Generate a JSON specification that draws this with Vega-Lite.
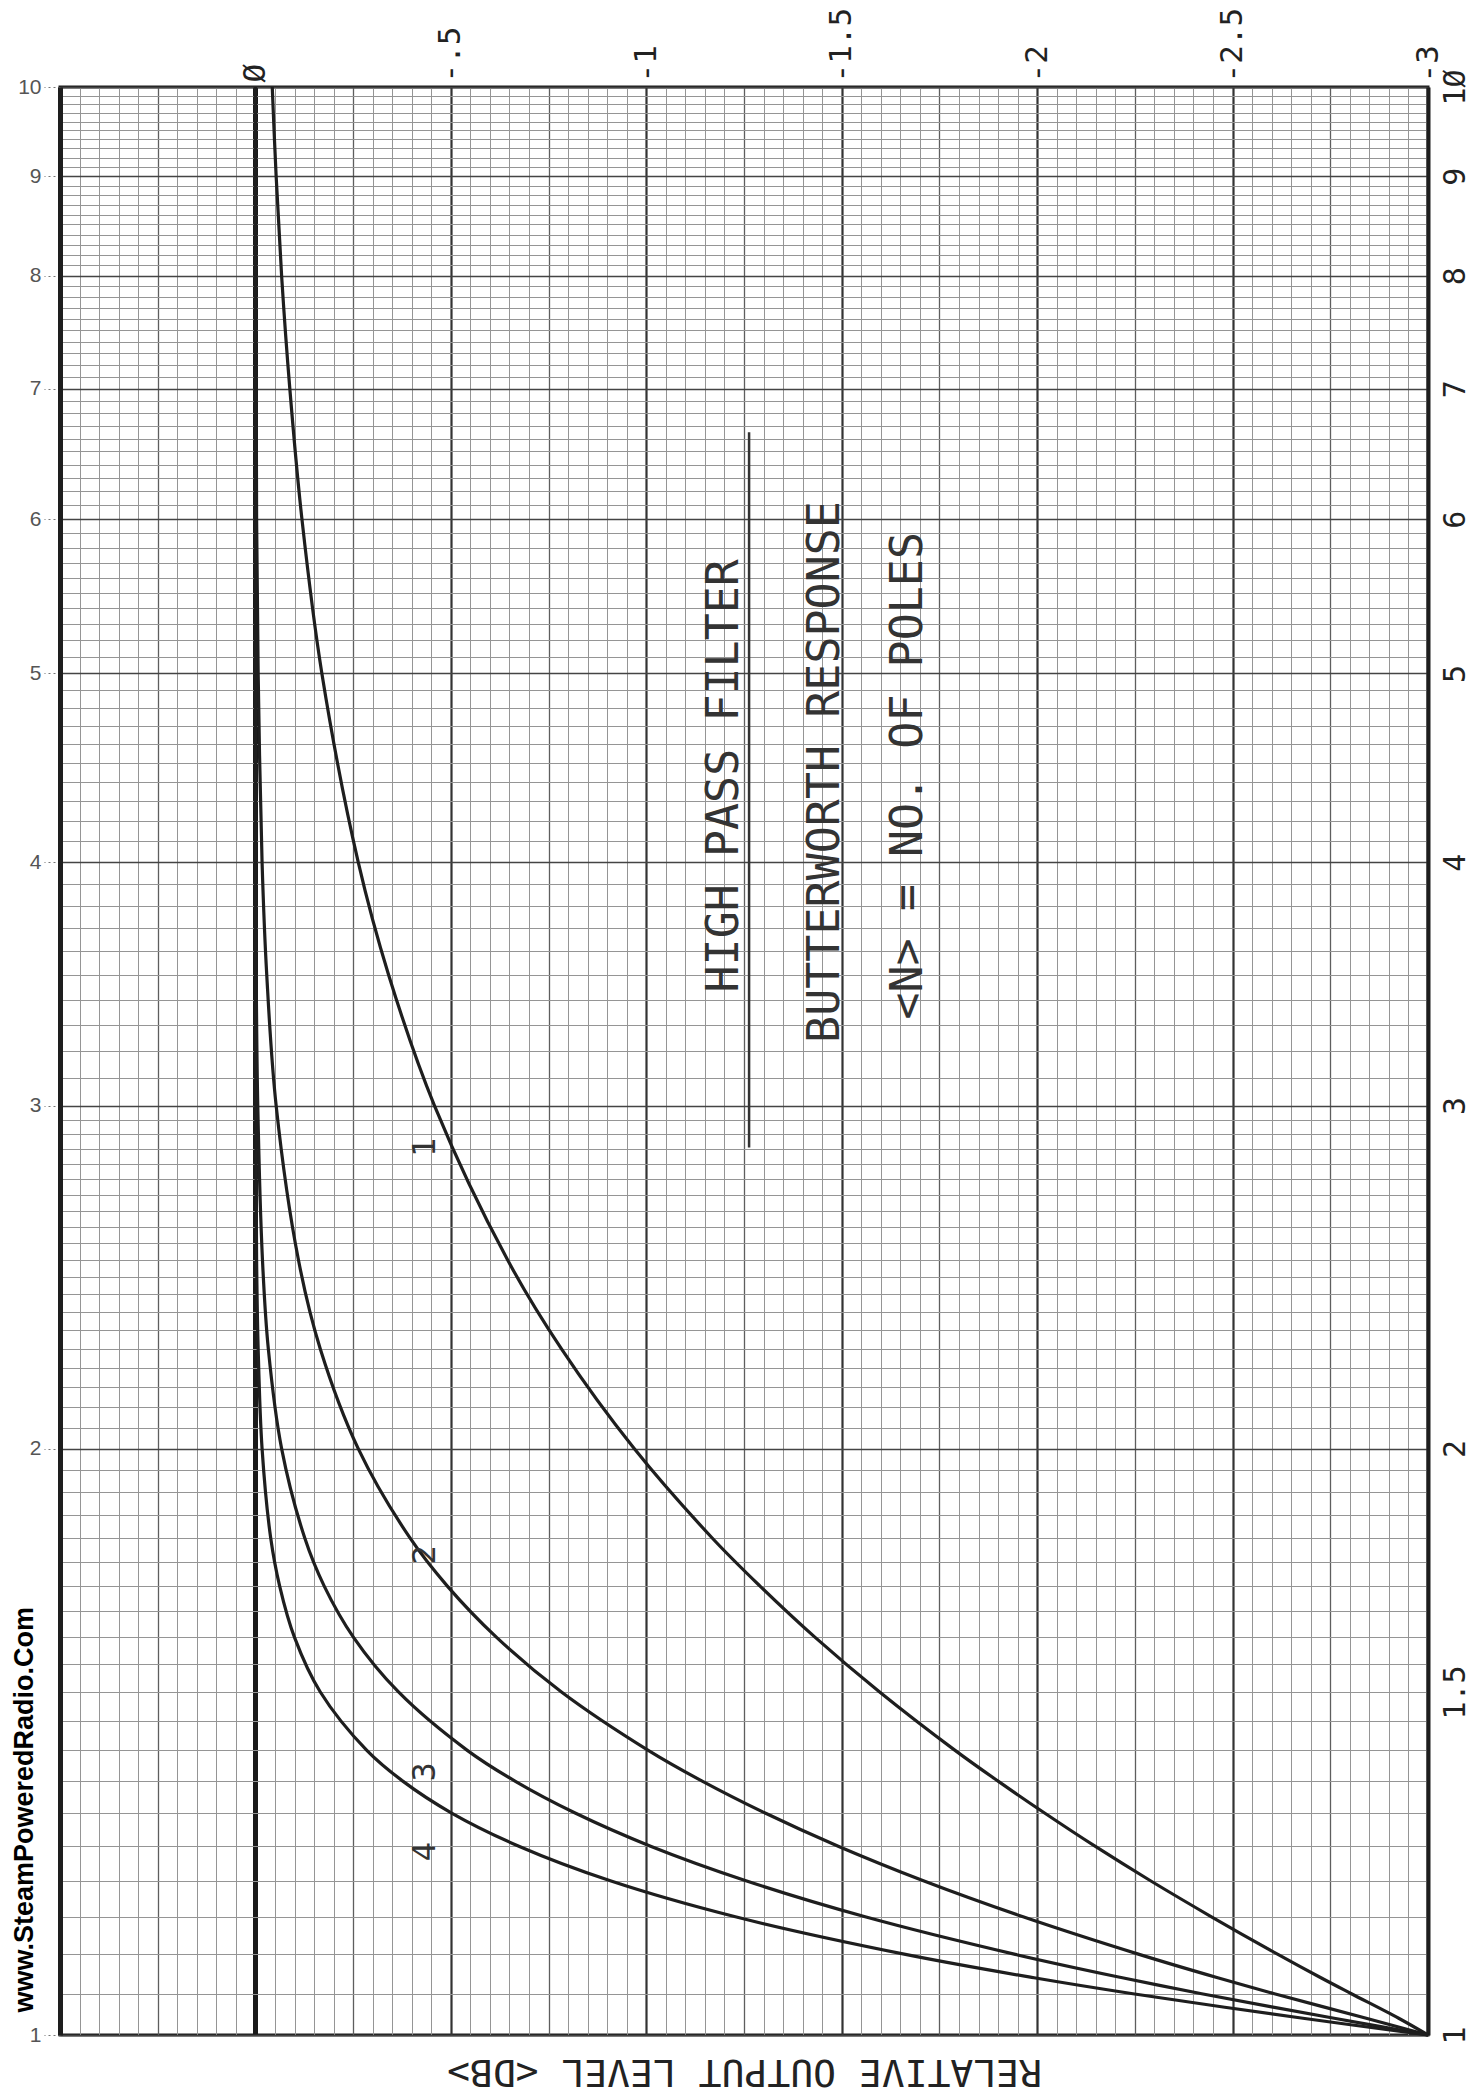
{
  "$schema": "https://vega.github.io/schema/vega-lite/v6.json",
  "width": 1368,
  "height": 1948,
  "autosize": {"type": "none"},
  "padding": {"left": 60, "top": 87, "right": 55, "bottom": 61},
  "background": "#ffffff",
  "config": {"view": {"stroke": "#1e1e1e", "strokeWidth": 3}},
  "datasets": {
    "curves": [
      {"poles": "1", "ratio": 1, "level": -3.0},
      {"poles": "1", "ratio": 1.02, "level": -2.925},
      {"poles": "1", "ratio": 1.05, "level": -2.804},
      {"poles": "1", "ratio": 1.07, "level": -2.726},
      {"poles": "1", "ratio": 1.1, "level": -2.616},
      {"poles": "1", "ratio": 1.15, "level": -2.446},
      {"poles": "1", "ratio": 1.2, "level": -2.29},
      {"poles": "1", "ratio": 1.25, "level": -2.148},
      {"poles": "1", "ratio": 1.3, "level": -2.019},
      {"poles": "1", "ratio": 1.35, "level": -1.9},
      {"poles": "1", "ratio": 1.4, "level": -1.79},
      {"poles": "1", "ratio": 1.5, "level": -1.597},
      {"poles": "1", "ratio": 1.6, "level": -1.432},
      {"poles": "1", "ratio": 1.7, "level": -1.291},
      {"poles": "1", "ratio": 1.8, "level": -1.168},
      {"poles": "1", "ratio": 2, "level": -0.969},
      {"poles": "1", "ratio": 2.25, "level": -0.783},
      {"poles": "1", "ratio": 2.5, "level": -0.645},
      {"poles": "1", "ratio": 3, "level": -0.458},
      {"poles": "1", "ratio": 3.5, "level": -0.341},
      {"poles": "1", "ratio": 4, "level": -0.263},
      {"poles": "1", "ratio": 5, "level": -0.17},
      {"poles": "1", "ratio": 6, "level": -0.119},
      {"poles": "1", "ratio": 7, "level": -0.088},
      {"poles": "1", "ratio": 8, "level": -0.067},
      {"poles": "1", "ratio": 9, "level": -0.053},
      {"poles": "1", "ratio": 10, "level": -0.043},
      {"poles": "2", "ratio": 1, "level": -3.0},
      {"poles": "2", "ratio": 1.02, "level": -2.842},
      {"poles": "2", "ratio": 1.05, "level": -2.607},
      {"poles": "2", "ratio": 1.07, "level": -2.462},
      {"poles": "2", "ratio": 1.1, "level": -2.261},
      {"poles": "2", "ratio": 1.15, "level": -1.964},
      {"poles": "2", "ratio": 1.2, "level": -1.709},
      {"poles": "2", "ratio": 1.25, "level": -1.491},
      {"poles": "2", "ratio": 1.3, "level": -1.304},
      {"poles": "2", "ratio": 1.35, "level": -1.143},
      {"poles": "2", "ratio": 1.4, "level": -1.005},
      {"poles": "2", "ratio": 1.5, "level": -0.783},
      {"poles": "2", "ratio": 1.6, "level": -0.617},
      {"poles": "2", "ratio": 1.7, "level": -0.491},
      {"poles": "2", "ratio": 1.8, "level": -0.395},
      {"poles": "2", "ratio": 2, "level": -0.263},
      {"poles": "2", "ratio": 2.25, "level": -0.166},
      {"poles": "2", "ratio": 2.5, "level": -0.11},
      {"poles": "2", "ratio": 3, "level": -0.053},
      {"poles": "2", "ratio": 3.5, "level": -0.029},
      {"poles": "2", "ratio": 4, "level": -0.017},
      {"poles": "2", "ratio": 5, "level": -0.007},
      {"poles": "2", "ratio": 6, "level": -0.003},
      {"poles": "2", "ratio": 7, "level": -0.002},
      {"poles": "2", "ratio": 8, "level": -0.001},
      {"poles": "2", "ratio": 9, "level": -0.001},
      {"poles": "2", "ratio": 10, "level": 0},
      {"poles": "3", "ratio": 1, "level": -3.0},
      {"poles": "3", "ratio": 1.02, "level": -2.76},
      {"poles": "3", "ratio": 1.05, "level": -2.421},
      {"poles": "3", "ratio": 1.07, "level": -2.218},
      {"poles": "3", "ratio": 1.1, "level": -1.944},
      {"poles": "3", "ratio": 1.15, "level": -1.56},
      {"poles": "3", "ratio": 1.2, "level": -1.255},
      {"poles": "3", "ratio": 1.25, "level": -1.011},
      {"poles": "3", "ratio": 1.3, "level": -0.818},
      {"poles": "3", "ratio": 1.35, "level": -0.664},
      {"poles": "3", "ratio": 1.4, "level": -0.542},
      {"poles": "3", "ratio": 1.5, "level": -0.366},
      {"poles": "3", "ratio": 1.6, "level": -0.251},
      {"poles": "3", "ratio": 1.7, "level": -0.176},
      {"poles": "3", "ratio": 1.8, "level": -0.126},
      {"poles": "3", "ratio": 2, "level": -0.067},
      {"poles": "3", "ratio": 2.25, "level": -0.033},
      {"poles": "3", "ratio": 2.5, "level": -0.018},
      {"poles": "3", "ratio": 3, "level": -0.006},
      {"poles": "3", "ratio": 3.5, "level": -0.002},
      {"poles": "3", "ratio": 4, "level": -0.001},
      {"poles": "3", "ratio": 5, "level": 0},
      {"poles": "3", "ratio": 6, "level": 0},
      {"poles": "3", "ratio": 7, "level": 0},
      {"poles": "3", "ratio": 8, "level": 0},
      {"poles": "3", "ratio": 9, "level": 0},
      {"poles": "3", "ratio": 10, "level": 0},
      {"poles": "4", "ratio": 1, "level": -3.0},
      {"poles": "4", "ratio": 1.02, "level": -2.68},
      {"poles": "4", "ratio": 1.05, "level": -2.245},
      {"poles": "4", "ratio": 1.07, "level": -1.992},
      {"poles": "4", "ratio": 1.1, "level": -1.663},
      {"poles": "4", "ratio": 1.15, "level": -1.228},
      {"poles": "4", "ratio": 1.2, "level": -0.908},
      {"poles": "4", "ratio": 1.25, "level": -0.674},
      {"poles": "4", "ratio": 1.3, "level": -0.502},
      {"poles": "4", "ratio": 1.35, "level": -0.377},
      {"poles": "4", "ratio": 1.4, "level": -0.285},
      {"poles": "4", "ratio": 1.5, "level": -0.166},
      {"poles": "4", "ratio": 1.6, "level": -0.1},
      {"poles": "4", "ratio": 1.7, "level": -0.062},
      {"poles": "4", "ratio": 1.8, "level": -0.039},
      {"poles": "4", "ratio": 2, "level": -0.017},
      {"poles": "4", "ratio": 2.25, "level": -0.007},
      {"poles": "4", "ratio": 2.5, "level": -0.003},
      {"poles": "4", "ratio": 3, "level": -0.001},
      {"poles": "4", "ratio": 3.5, "level": 0},
      {"poles": "4", "ratio": 4, "level": 0},
      {"poles": "4", "ratio": 5, "level": 0},
      {"poles": "4", "ratio": 6, "level": 0},
      {"poles": "4", "ratio": 7, "level": 0},
      {"poles": "4", "ratio": 8, "level": 0},
      {"poles": "4", "ratio": 9, "level": 0},
      {"poles": "4", "ratio": 10, "level": 0}
    ],
    "curve_labels": [
      {"poles": "1", "level": -0.433, "ratio": 2.855},
      {"poles": "2", "level": -0.433, "ratio": 1.764},
      {"poles": "3", "level": -0.433, "ratio": 1.365},
      {"poles": "4", "level": -0.433, "ratio": 1.242}
    ],
    "notes": [
      {"text": "HIGH  PASS  FILTER", "level": -1.198, "ratio": 4.43},
      {"text": "BUTTERWORTH RESPONSE", "level": -1.457, "ratio": 4.45},
      {"text": "<N> = NO. OF POLES", "level": -1.669, "ratio": 4.43}
    ],
    "underline": [{"level": -1.263, "from": 2.855, "to": 6.65}],
    "watermark": [{"text": "www.SteamPoweredRadio.Com", "level": 0.59, "ratio": 1.305}]
  },
  "layer": [
    {
      "data": {"name": "curves"},
      "mark": {"type": "line", "interpolate": "catmull-rom", "color": "#1e1e1e", "strokeWidth": 3.2},
      "encoding": {
        "x": {
          "field": "level", "type": "quantitative",
          "scale": {"domain": [-3, 0.5], "reverse": true, "nice": false, "zero": false},
          "axis": {
            "orient": "top", "title": null,
            "values": [0.5,0.45,0.4,0.35,0.3,0.25,0.2,0.15,0.1,0.05,0,-0.05,-0.1,-0.15,-0.2,-0.25,-0.3,-0.35,-0.4,-0.45,-0.5,-0.55,-0.6,-0.65,-0.7,-0.75,-0.8,-0.85,-0.9,-0.95,-1,-1.05,-1.1,-1.15,-1.2,-1.25,-1.3,-1.35,-1.4,-1.45,-1.5,-1.55,-1.6,-1.65,-1.7,-1.75,-1.8,-1.85,-1.9,-1.95,-2,-2.05,-2.1,-2.15,-2.2,-2.25,-2.3,-2.35,-2.4,-2.45,-2.5,-2.55,-2.6,-2.65,-2.7,-2.75,-2.8,-2.85,-2.9,-2.95,-3],
            "grid": true, "ticks": false, "tickSize": 0, "domain": false,
            "labelExpr": "abs(datum.value) < 0.000001 ? 'Ø' : (datum.value < 0 && abs(datum.value * 2 - round(datum.value * 2)) < 0.000001) ? (abs(datum.value + 0.5) < 0.000001 ? '-.5' : '-' + format(-datum.value, '~g')) : ''",
            "labelAngle": 270, "labelAlign": "left", "labelBaseline": "middle", "labelPadding": 5,
            "labelFont": "DejaVu Sans Mono", "labelFontSize": 31, "labelColor": "#222222",
            "labelOverlap": false, "labelFlush": false, "labelBound": false,
            "gridColor": {"condition": [
              {"test": "abs(datum.value) < 0.000001", "value": "#1a1a1a"},
              {"test": "abs(datum.value * 2 - round(datum.value * 2)) < 0.000001", "value": "#333333"},
              {"test": "abs(datum.value * 4 - round(datum.value * 4)) < 0.000001", "value": "#5e5e5e"}
            ], "value": "#959595"},
            "gridWidth": {"condition": [
              {"test": "abs(datum.value) < 0.000001", "value": 5},
              {"test": "abs(datum.value * 2 - round(datum.value * 2)) < 0.000001", "value": 2.2},
              {"test": "abs(datum.value * 4 - round(datum.value * 4)) < 0.000001", "value": 1.3}
            ], "value": 1}
          }
        },
        "y": {
          "field": "ratio", "type": "quantitative",
          "scale": {"type": "log", "domain": [1, 10], "nice": false},
          "axis": {
            "orient": "right", "title": null,
            "values": [1,1.05,1.1,1.15,1.2,1.25,1.3,1.35,1.4,1.45,1.5,1.55,1.6,1.65,1.7,1.75,1.8,1.85,1.9,1.95,2,2.05,2.1,2.15,2.2,2.25,2.3,2.35,2.4,2.45,2.5,2.55,2.6,2.65,2.7,2.75,2.8,2.85,2.9,2.95,3,3.1,3.2,3.3,3.4,3.5,3.6,3.7,3.8,3.9,4,4.1,4.2,4.3,4.4,4.5,4.6,4.7,4.8,4.9,5,5.1,5.2,5.3,5.4,5.5,5.6,5.7,5.8,5.9,6,6.1,6.2,6.3,6.4,6.5,6.6,6.7,6.8,6.9,7,7.1,7.2,7.3,7.4,7.5,7.6,7.7,7.8,7.9,8,8.1,8.2,8.3,8.4,8.5,8.6,8.7,8.8,8.9,9,9.1,9.2,9.3,9.4,9.5,9.6,9.7,9.8,9.9,10],
            "grid": true, "ticks": false, "tickSize": 0,
            "domain": true, "domainWidth": 4, "domainColor": "#1e1e1e",
            "labelExpr": "abs(datum.value - 10) < 0.000001 ? '1Ø' : (abs(datum.value - round(datum.value)) < 0.000001 || abs(datum.value - 1.5) < 0.000001) ? format(datum.value, '~g') : ''",
            "labelAngle": 270, "labelAlign": "center", "labelBaseline": "top", "labelPadding": 12,
            "labelFont": "DejaVu Sans Mono", "labelFontSize": 30, "labelColor": "#222222",
            "labelOverlap": false, "labelFlush": false, "labelBound": false,
            "gridColor": {"condition": {"test": "abs(datum.value - round(datum.value)) < 0.000001", "value": "#444444"}, "value": "#959595"},
            "gridWidth": {"condition": {"test": "abs(datum.value - round(datum.value)) < 0.000001", "value": 1.7}, "value": 1}
          }
        },
        "detail": {"field": "poles", "type": "nominal"},
        "order": {"field": "ratio", "type": "quantitative"}
      }
    },
    {
      "data": {"name": "curve_labels"},
      "mark": {"type": "text", "font": "DejaVu Sans Mono", "fontSize": 32, "angle": 270, "align": "center", "baseline": "middle", "color": "#333333"},
      "encoding": {
        "x": {
          "field": "level", "type": "quantitative",
          "axis": {
            "orient": "bottom", "labels": false, "ticks": false, "tickSize": 0, "grid": false, "domain": false,
            "title": "RELATIVE   OUTPUT   LEVEL <DB>", "titleAngle": 180,
            "titleFont": "DejaVu Sans Mono", "titleFontSize": 38, "titleFontWeight": "normal",
            "titleColor": "#222222", "titleAlign": "center", "titleBaseline": "bottom", "titlePadding": 16
          }
        },
        "y": {
          "field": "ratio", "type": "quantitative",
          "axis": {
            "orient": "left", "title": null, "values": [1,2,3,4,5,6,7,8,9,10],
            "grid": false, "ticks": true, "tickSize": 16, "tickDash": [2, 3], "tickColor": "#777777", "tickWidth": 1,
            "domain": true, "domainWidth": 5, "domainColor": "#1e1e1e",
            "labelExpr": "format(datum.value, 'd')",
            "labelFont": "Liberation Sans", "labelFontSize": 21, "labelColor": "#555555",
            "labelPadding": 3, "labelAlign": "right", "labelBaseline": "middle",
            "labelOverlap": false, "labelFlush": false, "labelBound": false
          }
        },
        "text": {"field": "poles", "type": "nominal"}
      }
    },
    {
      "data": {"name": "notes"},
      "mark": {"type": "text", "font": "DejaVu Sans Mono", "fontSize": 45, "angle": 270, "align": "center", "baseline": "middle", "color": "#333333"},
      "encoding": {
        "x": {"field": "level", "type": "quantitative", "axis": null},
        "y": {"field": "ratio", "type": "quantitative", "axis": null},
        "text": {"field": "text", "type": "nominal"}
      }
    },
    {
      "data": {"name": "underline"},
      "mark": {"type": "rule", "color": "#333333", "strokeWidth": 2.5},
      "encoding": {
        "x": {"field": "level", "type": "quantitative", "axis": null},
        "y": {"field": "from", "type": "quantitative", "axis": null},
        "y2": {"field": "to"}
      }
    },
    {
      "data": {"name": "watermark"},
      "mark": {"type": "text", "font": "Liberation Sans", "fontSize": 27, "fontWeight": "bold", "angle": 270, "align": "center", "baseline": "middle", "color": "#000000"},
      "encoding": {
        "x": {"field": "level", "type": "quantitative", "axis": null},
        "y": {"field": "ratio", "type": "quantitative", "axis": null},
        "text": {"field": "text", "type": "nominal"}
      }
    }
  ],
  "resolve": {"axis": {"x": "independent", "y": "independent"}}
}
